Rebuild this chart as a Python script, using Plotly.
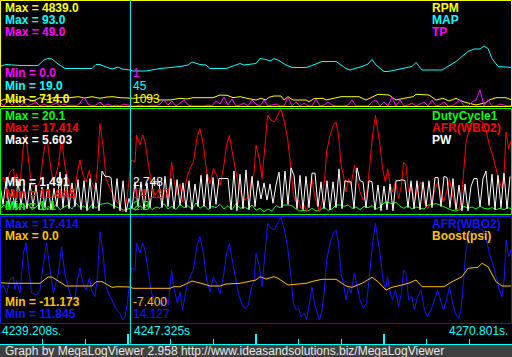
import plotly.graph_objects as go

# ---------------- data (x = log record index, 256 records in the window) ----------------
time_labels = ["4239.208s.", "4247.325s", "4270.801s."]
cursor_rec = 65.2

rpm_rec = [0, 2.5, 5, 7.5, 10, 13.5, 16.5, 20, 23.5, 26.5, 30, 35, 39, 42.5, 46, 50, 53.5, 56.5, 60, 64,
           67.5, 72.5, 77.5, 80, 85, 90, 93.5, 96.5, 100, 106.5, 110, 113.5, 116.5, 120, 123.5, 128, 130.5,
           133, 134.5, 137, 140.5, 142, 144, 146.5, 153, 154.5, 157, 161.5, 163, 168, 170.5, 174.5, 179.5,
           183, 186.5, 189, 194.5, 198, 202, 206.5, 208, 211.5, 214.5, 218, 221.5, 224.5, 228, 231.5, 234.5,
           238, 243, 244.5, 248, 253, 256]
rpm = [943, 1043, 908, 993, 908, 1043, 943, 1108, 993, 1108, 1118, 1108, 1158, 1093, 1158, 1078, 1143, 1158,
       1108, 1093, 1078, 1143, 1078, 993, 993, 1078, 1043, 1108, 1108, 1108, 1243, 1228, 1108, 1158, 1078,
       993, 1078, 993, 1128, 1193, 1193, 993, 1158, 993, 993, 908, 1058, 1078, 993, 1078, 1158, 1158, 1158,
       993, 1158, 1278, 1243, 993, 1078, 1158, 1278, 1243, 1243, 993, 1078, 943, 1078, 908, 828, 743, 858,
       993, 1108, 1108, 993]

map_rec = [0, 3, 10, 19, 22, 24, 26, 29, 32.5, 46, 48, 50, 53, 56, 59, 61, 65, 66.5, 73, 80, 90, 94, 96, 100,
           103, 105, 113, 116, 120, 122, 128, 130, 133, 135, 137, 139, 143, 146, 153, 156, 161, 168, 173, 175,
           178, 181, 184, 186, 188, 192, 194, 201, 206, 208, 211, 221, 224, 228, 231, 234, 237, 240, 242, 244,
           246, 249, 256]
map_kpa = [52, 56, 54, 54, 65, 68, 67, 57, 48, 48, 56, 56, 51, 47, 51, 47, 45, 43, 43, 48, 52, 55, 61, 56,
           55, 48, 48, 52, 58, 55, 58, 68, 66, 63, 68, 65, 55, 50, 50, 54, 62, 62, 48, 45,
           48, 52, 57, 66, 55, 42, 42, 47, 52, 60, 45, 45, 53, 62, 72, 82, 87, 87, 93, 88,
           68, 52, 50]

tp = [4, 0, 6, 1, 5, 0, 3, 0, 2, 4, 0, 2, 0, 1, 3, 0, 2, 0, 1, 0, 3, 9, 2, 0, 1, 4, 0, 2, 0, 1, 0, 2, 1, 0, 0,
      1, 0, 0, 1, 0, 2, 6, 1, 5, 0, 3, 6, 1, 0, 0, 0, 0, 1, 0, 5, 2, 9, 1, 7, 0, 1, 3, 0, 6, 2,
      0, 6, 0, 1, 2, 0, 0, 9, 0, 4, 0, 3, 0, 0, 7, 0, 1, 4, 1, 0, 0, 0, 1, 6, 0, 0, 0, 0, 4, 6,
      0, 4, 0, 9, 0, 6, 0, 1, 3, 0, 2, 4, 0, 6, 0, 1, 4, 0, 0, 3, 6, 0, 0, 4, 6, 16, 0, 6, 0, 0, 2, 1, 0, 1]

duty = [2.3, 2.9, 2.2, 3.3, 2.1, 2.8, 2.4, 3.1, 2.2, 2.6, 3.2, 2.1, 2.7, 2.3, 3.0, 2.2, 2.6, 2.9, 2.3, 3.2,
        2.5, 2.8, 2.2, 3.0, 2.4, 3.0, 3.1, 3.2, 2.9, 2.6, 2.3, 2.1, 2.3, 2.5, 2.1, 2.8, 2.3, 3.0, 2.2, 2.6,
        2.4, 3.1, 2.3, 2.7, 2.2, 3.0, 2.5, 2.8, 2.3, 3.2, 2.4, 2.9, 2.2, 2.7, 2.5, 3.0, 2.3, 2.8, 2.2, 3.1,
        2.4, 2.6, 2.3, 2.9,
        2.1, 2.4, 1.9, 2.3, 2.0, 2.8, 2.5, 2.9, 2.9, 2.8, 2.3, 2.0, 2.1, 2.0, 2.4, 2.0, 2.1, 2.6, 2.1, 2.3,
        2.9, 2.9, 2.7, 2.9, 2.4, 2.6, 2.2, 2.7, 2.5, 2.8, 2.3, 2.6, 3.2, 3.3, 3.1, 3.3, 2.7, 2.4, 2.8, 2.3,
        2.6, 2.4, 2.3, 2.9, 3.0, 3.1, 2.9, 2.6, 2.3, 2.1, 2.0, 2.2, 2.7, 2.4, 2.6, 2.3, 2.7, 2.4, 2.3, 2.5,
        2.2, 2.4, 2.2, 2.5, 2.3]

pw = [4.0, 2.2, 4.3, 2.0, 3.6, 1.9, 4.4, 2.1, 3.9, 1.8, 4.2,
      2.0, 4.0, 1.7, 3.8, 1.9, 4.1, 1.7, 3.7, 2.0, 5.2,
      1.9, 5.0, 1.8, 4.2, 2.0, 4.5,
      1.7, 4.4, 1.6, 4.6, 1.8, 4.2, 1.6, 5.3, 4.8, 4.8,
      4.7, 1.8, 4.6, 1.6, 4.4, 1.5,
      2.75, 1.8, 4.3, 2.0, 4.3, 1.7, 4.2, 1.9, 4.3, 4.3,
      4.3, 1.9, 4.8, 2.0, 4.6, 1.8, 4.5, 2.1,
      4.2, 1.9, 4.4, 1.7, 4.1, 2.0,
      4.9, 2.0, 5.0, 1.8, 4.7, 2.2, 4.6, 4.6, 4.6, 4.6,
      1.7, 5.3, 1.6, 5.0, 1.8, 5.4, 1.7, 4.8, 2.0,
      4.4, 2.7, 4.2, 2.6, 4.1, 2.3, 4.0,
      5.2, 1.9, 5.3, 2.2,
      5.6, 4.9, 1.8, 4.9,
      1.7, 4.8, 1.9,
      5.1, 5.1, 2.0,
      4.3, 1.8, 4.4, 1.7, 4.3, 1.9, 5.5, 1.8, 4.4,
      4.3, 4.3, 1.8, 5.6, 4.4, 4.3, 1.9, 4.4, 4.3,
      1.7, 4.0, 1.6, 3.9, 1.7, 4.1, 1.6,
      4.4, 4.4, 4.5, 4.4, 1.9, 4.4,
      1.8, 4.4, 1.7, 4.3, 2.0, 4.4, 1.9,
      4.7, 4.7, 2.0, 4.8, 4.7, 1.9, 4.6,
      1.7, 4.0, 1.6, 4.1, 1.6, 3.9,
      4.6, 4.6, 2.0, 4.6, 5.3, 2.1,
      5.0, 1.7, 4.9, 1.9, 5.1, 1.8, 4.8]

afr_rec = [0, 1.7, 3.3, 5, 6.7, 7.5, 8.3, 10, 11.7, 13,
           14.2, 15.8, 18.3, 20, 21.7, 23.3, 25, 26.7, 29.2, 30.8,
           32.5, 34.2, 35.8, 37.5, 38.7, 40, 41.3, 43, 44.7, 45.8,
           47.5, 48.7, 50, 51.7, 53, 54.7, 56.7, 58.3, 60, 61.3,
           62.5, 63.7, 65, 65.8, 67.5, 68.3, 70, 71.3, 72.5, 74.2,
           75.8, 77.5, 79.2, 80.8, 82.5, 84.2, 85.8, 87, 88.7, 90,
           91.3, 93.3, 95, 96.7, 98.7, 100, 101.7, 103.3, 105, 106.7,
           108.3, 110, 111.7, 113.3, 114.7, 115.8, 117.5, 119.2, 120.8, 122.5,
           124.2, 125.8, 127, 128, 129.7, 131, 132.2, 133.8, 135.5, 137.2,
           138.8, 140.5, 142.2, 143.8, 145.5, 146.7, 148, 149.3, 150.5, 152.2,
           153.3, 154.7, 156, 157.2, 158.5, 159.7, 161, 162.2, 163.3, 165,
           166.7, 168, 169.3, 170.5, 171.7, 173, 174.3, 175.5, 177.2, 178.5,
           180, 181.7, 183.3, 184.7, 186.3, 187.7, 188.8, 190, 191.3, 192.7,
           193.8, 195, 196.3, 197.7, 199.3, 200.7, 201.8, 203, 204.3, 206,
           207.2, 208.8, 210.5, 212.2, 213.8, 215.5, 217.2, 218.8, 220.2, 221.7,
           223.3, 224.7, 226.3, 227.7, 229.3, 230.5, 231.7, 233, 234.7, 236.3,
           238, 239.7, 241.3, 243, 244.7, 246.3, 248, 249.7, 251, 252.2,
           253, 254.3, 256]
afr = [13.50, 13.77, 13.32, 14.04, 14.21, 13.50, 13.95, 13.34, 15.48, 16.02,
       14.73, 13.34, 13.23, 13.50, 14.95, 16.02, 14.57, 13.34, 14.41, 15.82,
       14.31, 13.68, 12.97, 13.07, 14.04, 14.68, 13.95, 13.50, 14.14, 13.50,
       13.14, 14.21, 16.63, 15.29, 13.68, 13.23, 12.79, 12.43, 12.25, 11.89,
       12.07, 12.79, 14.13, 14.68, 14.57, 16.02, 15.48, 16.02, 15.65, 14.48,
       13.32, 12.79, 13.06, 12.61, 13.14, 12.70, 14.57, 13.59, 12.79, 13.41,
       12.43, 13.68, 14.21, 14.57, 16.00, 16.36, 15.47, 14.04, 13.41, 14.21,
       13.86, 13.32, 14.21, 15.47, 16.00, 15.29, 14.40, 13.32, 12.79, 12.52,
       12.70, 13.68, 13.95, 15.47, 14.75, 13.68, 15.11, 17.08, 16.81, 16.72,
       17.08, 17.41, 16.72, 15.82, 14.21, 12.79, 12.43, 12.52, 12.07, 12.25,
       11.89, 12.79, 13.68, 12.79, 12.25, 11.89, 12.43, 13.50, 15.11, 16.00,
       16.54, 16.72, 16.00, 14.40, 13.86, 12.97, 13.68, 13.32, 14.40, 13.68,
       12.97, 12.52, 12.79, 14.21, 16.00, 17.08, 16.36, 15.47, 14.21, 13.50,
       14.21, 13.41, 12.97, 13.50, 12.61, 13.32, 14.57, 14.40, 12.97, 13.14,
       12.43, 13.14, 13.50, 12.43, 12.07, 12.43, 12.97, 13.50, 12.97, 12.43,
       12.97, 13.68, 12.79, 12.25, 11.98, 12.43, 13.86, 15.65, 16.36, 16.72,
       16.89, 16.81, 16.72, 16.27, 15.47, 14.93, 14.21, 13.50, 13.14, 14.21,
       16.18, 15.29, 15.82]

boost_rec = [0, 5, 20, 22, 24, 26, 29, 33, 46, 48, 51, 56, 59, 63, 65, 66.5, 85, 87, 90, 93, 96, 100, 105,
             110, 113, 120, 125, 128, 130, 133, 137, 139, 144, 153, 157, 161, 168, 173, 176, 181, 186, 189,
             193, 196, 201, 205, 208, 211, 222, 226, 231, 234, 239, 241, 244, 248, 251, 256]
boost = [-6.15, -6.33, -6.33, -5.37, -4.5, -4.5, -5.66, -7.11, -7.11, -5.86, -5.86, -7.49, -7.31, -7.49,
         -7.4, -7.78, -7.78, -7.31, -7.31, -6.53, -5.66, -6.24, -7.11, -7.11, -6.53, -6.33, -5.86, -5.37,
         -4.41, -5.08, -4.41, -4.88, -6.82, -6.33, -5.66, -5.17, -5.17, -7.11, -7.49, -6.33, -4.59, -5.86,
         -8.27, -7.49, -6.82, -6.15, -5.37, -7.31, -7.31, -5.86, -4.41, -1.98, -1.69, -0.53, -1.51, -5.86,
         -7.11, -7.11]

# labels
p1_names = ["RPM", "MAP", "TP"]
p1_max = ["Max = 4839.0", "Max = 93.0", "Max = 49.0"]
p1_min = ["Min = 0.0", "Min = 19.0", "Min = 714.0"]
p1_cur = ["1", "45", "1093"]
p2_names = ["DutyCycle1", "AFR(WBO2)", "PW"]
p2_max = ["Max = 20.1", "Max = 17.414", "Max = 5.603"]
p2_min = ["Min = 1.491", "Min = 11.845", "Min = 1.1"]
p2_cur = ["2.748", "14.127", "2.3"]
p3_names = ["AFR(WBO2)", "Boost(psi)"]
p3_max = ["Max = 17.414", "Max = 0.0"]
p3_min = ["Min = -11.173", "Min = 11.845"]
p3_cur = ["-7.400", "14.127"]
footer = "Graph by MegaLogViewer 2.958 http://www.ideasandsolutions.biz/MegaLogViewer"

# ---------------- styling / layout ----------------
W, H = 512, 357
YEL, CYN, MAG, GRN, RED, WHT, BLU, ORG = ('#FFFF00', '#00FFFF', '#FF00FF', '#00FF00', '#FF0000',
                                          '#FFFFFF', '#1414FF', '#FFC000')
FONT = "Liberation Sans, Arial, sans-serif"


def py(p):
    return 1 - p / H


def px(p):
    return p / W


panels = [(0.5, 106.5, YEL), (108.5, 214.5, GRN), (216.5, 323.5, BLU)]
dom = [(1, 106), (109, 214), (217, 323)]

# axis: (panel, value at reference pixel, reference pixel row, units per pixel)
axes = {
    'y':  (0, 1093, 98, 50),
    'y2': (0, 45, 70, 2),
    'y3': (0, 0, 106, 1),
    'y4': (1, 2.3, 209, 0.15),
    'y5': (1, 17.414, 109, 0.0536),
    'y6': (1, 1.491, 212, 0.093),
    'y7': (2, 17.414, 217, 0.0536),
    'y8': (2, -7.4, 287, 0.29),
}
base = {0: 'y', 1: 'y4', 2: 'y7'}

fig = go.Figure()


def add(x, y, color, ax):
    fig.add_trace(go.Scatter(x=x, y=y, mode='lines', line=dict(color=color, width=1),
                             xaxis='x', yaxis=ax, hoverinfo='skip', showlegend=False))


add(rpm_rec, rpm, YEL, 'y')
add(map_rec, map_kpa, CYN, 'y2')
add([2 * i for i in range(len(tp))], tp, MAG, 'y3')
add([2 * i for i in range(len(duty))], duty, GRN, 'y4')
add(afr_rec, afr, RED, 'y5')
add([1.5 * i for i in range(len(pw))], pw, WHT, 'y6')
add(afr_rec, afr, BLU, 'y7')
add(boost_rec, boost, ORG, 'y8')

layout_axes = {}
for name, (pi, v, rp, k) in axes.items():
    top, bot = dom[pi]
    d = dict(range=[v - (bot - rp) * k, v + (rp - top) * k], visible=False, fixedrange=True)
    if name == base[pi]:
        d['domain'] = [py(bot), py(top)]
    else:
        d['overlaying'] = base[pi]
    key = 'yaxis' if name == 'y' else 'yaxis' + name[1:]
    layout_axes[key] = d

shapes = [dict(type='rect', xref='paper', yref='paper', x0=0, x1=1, y0=0, y1=py(344.5),
               fillcolor='#404040', line=dict(width=0), layer='below')]
for t, b, c in panels:
    shapes.append(dict(type='rect', xref='paper', yref='paper', x0=px(0.5), x1=px(511.5),
                       y0=py(b), y1=py(t), line=dict(color=c, width=1), layer='above'))
shapes.append(dict(type='line', xref='x', yref='paper', x0=cursor_rec, x1=cursor_rec,
                   y0=py(343.5), y1=1, line=dict(color=CYN, width=1), layer='above'))

ann = []


def label(text, x, yc, color, bold=False, anchor='left'):
    ann.append(dict(text=text, xref='paper', yref='paper', x=px(x), y=py(yc), xanchor=anchor,
                    yanchor='middle', showarrow=False,
                    font=dict(family=FONT, size=12, color=color, weight='bold' if bold else 'normal')))


def panel_block(names, maxs, colors, top_rows, mins, curs, min_colors, min_rows):
    for n, m, c, yr in zip(names, maxs, colors, top_rows):
        label(m, 3, yr, c, True)
        label(n, 430, yr, c, True)
    for txt, cur, col, yr in zip(mins, curs, min_colors, min_rows):
        label(txt, 3, yr, col, True)
        label(cur, 131, yr, col)


panel_block(p1_names, p1_max, [YEL, CYN, MAG], [7.5, 19.5, 31.5],
            p1_min, p1_cur, [MAG, CYN, YEL], [73, 86, 98.5])
panel_block(p2_names, p2_max, [GRN, RED, WHT], [116, 128, 140],
            p2_min, p2_cur, [WHT, RED, GRN], [181.5, 194, 206])
panel_block(p3_names, p3_max, [BLU, ORG], [224, 236],
            p3_min, p3_cur, [ORG, BLU], [302, 314])

# time labels
label(time_labels[0], 0, 331, CYN)
label(time_labels[1], 132, 331, CYN)
label(time_labels[2], 510, 331, CYN, anchor='right')
label(footer, 3, 351, '#E6E6E6')

fig.update_layout(
    width=W, height=H, margin=dict(l=0, r=0, t=0, b=0, pad=0),
    paper_bgcolor='black', plot_bgcolor='rgba(0,0,0,0)', showlegend=False,
    xaxis=dict(range=[0, 256], domain=[0, 1], anchor='free', position=py(343.5), fixedrange=True,
               showgrid=False, zeroline=False, showticklabels=False, showline=True,
               linecolor=CYN, linewidth=1, ticks='inside', tickvals=[0, 64, 128, 192, 256],
               ticklen=10, tickwidth=2, tickcolor=CYN,
               minor=dict(ticks='inside', tick0=0, dtick=256 / 12, ticklen=5, tickwidth=1,
                          tickcolor=CYN, showgrid=False)),
    shapes=shapes, annotations=ann, **layout_axes)

fig.write_html("out.html", config={'displayModeBar': False})
